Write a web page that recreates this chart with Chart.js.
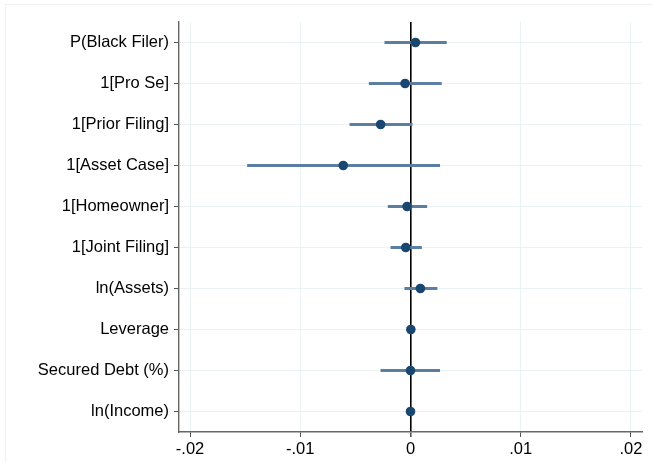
<!DOCTYPE html>
<html>
<head>
<meta charset="utf-8">
<script src="https://cdn.jsdelivr.net/npm/chart.js@4/dist/chart.umd.min.js"></script>
<style>
  html, body { margin: 0; padding: 0; background: #fff; }
  #wrap { width: 653px; height: 462px; position: relative; }
</style>
</head>
<body>
<div id="wrap"><canvas id="c" width="653" height="462"></canvas></div>
<script>
// Coefficient estimates with 95% confidence intervals
const variables = [
  'P(Black Filer)', '1[Pro Se]', '1[Prior Filing]', '1[Asset Case]', '1[Homeowner]',
  '1[Joint Filing]', 'ln(Assets)', 'Leverage', 'Secured Debt (%)', 'ln(Income)'
];
const estimates = [0.00045, -0.00049, -0.00271, -0.0061, -0.00031, -0.00043, 0.0009, 0.00003, 0.0, 0.0];
const ciLow  = [-0.00233, -0.00375, -0.0055, -0.01479, -0.00203, -0.00178, -0.00052, -0.0002, -0.00269, -0.0002];
const ciHigh = [0.00326, 0.0028, 0.00015, 0.00265, 0.00148, 0.001, 0.00241, 0.0002, 0.00265, 0.0002];
const xTickValues = [-0.02, -0.01, 0, 0.01, 0.02];
const xTickLabels = ['-.02', '-.01', '0', '.01', '.02'];

const intervals = ciLow.map((lo, i) => [lo, ciHigh[i]]);

const frame = {
  id: 'frame',
  beforeDraw(chart) {
    const ctx = chart.ctx;
    ctx.save();
    ctx.fillStyle = '#fff';
    ctx.fillRect(0, 0, chart.width, chart.height);
    ctx.strokeStyle = '#eef2f3';
    ctx.lineWidth = 1;
    ctx.strokeRect(5.5, 4.5, 648, 470);
    ctx.restore();
  }
};

const font = { family: '"Liberation Sans", Arial, sans-serif', size: 16.5 };

new Chart(document.getElementById('c'), {
  type: 'bar',
  data: {
    labels: variables,
    datasets: [
      {
        type: 'line',
        data: estimates,
        showLine: false,
        pointRadius: 4.8,
        pointHoverRadius: 4.8,
        pointBackgroundColor: '#1a476f',
        pointBorderColor: '#1a476f',
        pointBorderWidth: 0,
        order: 0
      },
      {
        type: 'bar',
        data: intervals,
        backgroundColor: '#5c7fa1',
        borderWidth: 0,
        barThickness: 2.4,
        order: 1
      }
    ]
  },
  options: {
    indexAxis: 'y',
    responsive: false,
    animation: false,
    layout: { padding: { top: 22, right: 11, left: 0, bottom: 0 } },
    plugins: { legend: { display: false }, tooltip: { enabled: false } },
    scales: {
      x: {
        type: 'linear',
        min: -0.021,
        max: 0.021,
        afterBuildTicks(scale) { scale.ticks = xTickValues.map(v => ({ value: v })); },
        afterFit(scale) { scale.height = 30; },
        ticks: {
          font: font,
          color: '#000',
          padding: 3,
          maxRotation: 0,
          callback: (v, i) => xTickLabels[i]
        },
        grid: {
          color: ctx => (ctx.tick && ctx.tick.value === 0) ? '#000' : '#eaf2f3',
          lineWidth: ctx => (ctx.tick && ctx.tick.value === 0) ? 1.6 : 1,
          tickColor: '#555',
          tickLength: 5,
          drawTicks: true
        },
        border: { color: '#666', width: 1.4 }
      },
      y: {
        type: 'category',
        offset: true,
        afterFit(scale) { scale.width = 179; },
        ticks: { font: font, color: '#000', padding: 5, autoSkip: false },
        grid: {
          offset: false,
          color: '#eaf2f3',
          lineWidth: 1,
          tickColor: '#555',
          tickLength: 5
        },
        border: { color: '#666', width: 1.4 }
      }
    }
  },
  plugins: [frame]
});
</script>
</body>
</html>
